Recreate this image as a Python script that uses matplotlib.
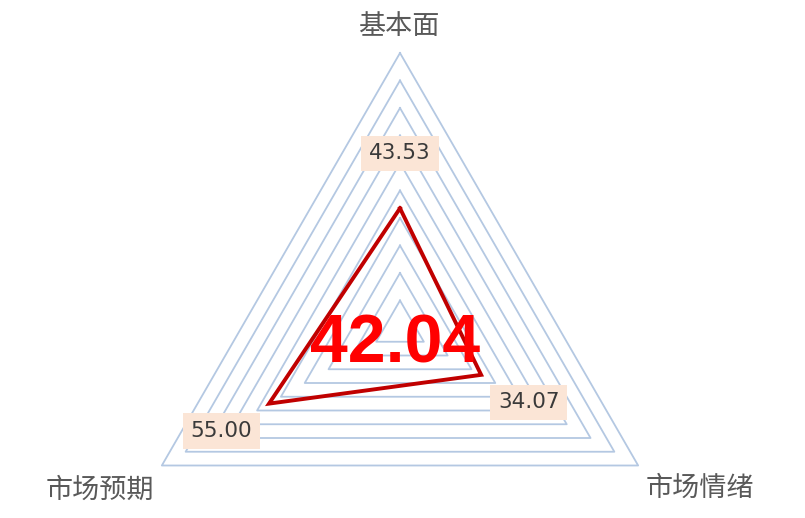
import numpy as np
import matplotlib
matplotlib.use("Agg")
import matplotlib.pyplot as plt

# axes go clockwise from the top
categories = ["基本面", "市场情绪", "市场预期"]
values = [43.53, 34.07, 55.00]
value_labels = ["43.53", "34.07", "55.00"]
score_text = "42.04"
max_value = 100
n_rings = 10

GRID = "#b4c8e2"
LINE = "#c00000"
CJK = ["Noto Sans CJK SC", "DejaVu Sans"]

angles = np.deg2rad(90 - 120 * np.arange(len(categories)))


def to_xy(r):
    r = np.asarray(r, dtype=float)
    return r * np.cos(angles), r * np.sin(angles)


fig = plt.figure(figsize=(8.05, 5.18), dpi=100)
ax = fig.add_axes([0, 0, 1, 1])
ax.set_xlim(-145.45, 147.27)
ax.set_ylim(-69.09, 119.27)
ax.set_aspect("equal")
ax.axis("off")

# concentric triangle grid
for k in range(1, n_rings + 1):
    gx, gy = to_xy([max_value * k / n_rings] * len(categories))
    ax.plot(np.append(gx, gx[0]), np.append(gy, gy[0]), color=GRID, lw=1.3, zorder=1)

# data polygon
dx, dy = to_xy(values)
ax.plot(np.append(dx, dx[0]), np.append(dy, dy[0]), color=LINE, lw=2.8,
        solid_joinstyle="miter", zorder=3)

# value labels sit ~20 units beyond each point on its axis
lx, ly = to_xy(np.array(values) + 20)
for x, y, t in zip(lx, ly, value_labels):
    ax.text(x, y, t, ha="center", va="center", fontsize=15.5, color="#3a3a3a",
            family="DejaVu Sans", zorder=4,
            bbox=dict(boxstyle="square,pad=0.36", fc="#fbe5d6", ec="none"))

# category labels
cat_pos = [(-0.4, 109.5), (109.0, -58.2), (-109.0, -58.9)]
for (x, y), name in zip(cat_pos, categories):
    ax.text(x, y, name, ha="center", va="center", fontsize=19.5, color="#595959", family=CJK)

# overall score in the middle
ax.text(-1.8, -12.4, score_text, ha="center", va="baseline", fontsize=49,
        fontweight="bold", color="#ff0000", family="Liberation Sans", zorder=5)

fig.savefig("out.png", dpi=100)
